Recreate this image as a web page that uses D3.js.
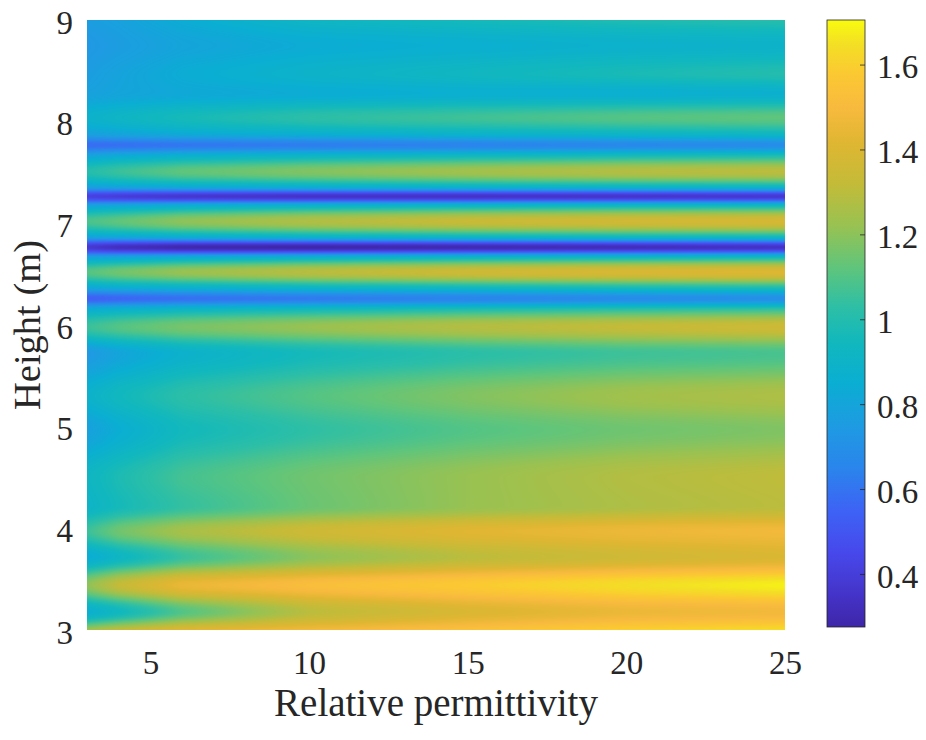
<!DOCTYPE html>
<html>
<head>
<meta charset="utf-8">
<script src="https://cdn.jsdelivr.net/npm/d3@7"></script>
<style>
  body { margin: 0; background: #fff; }
  svg text { font-family: "Liberation Serif", "Times New Roman", serif; fill: #262626; }
</style>
</head>
<body>
<svg id="chart" width="926" height="740"></svg>
<script>
// relative permittivity columns
const permittivity = [3, 4, 6, 10, 15, 20, 25];

// heights (m) of the band centres / edges, bottom to top
const heights = [3.00, 3.18, 3.44, 3.72, 3.97, 4.22, 4.50, 4.97, 5.30, 5.72, 5.98,
                 6.15, 6.26, 6.37, 6.52, 6.66, 6.765, 6.87, 7.02, 7.17, 7.265,
                 7.36, 7.51, 7.66, 7.77, 7.88, 8.04, 8.28, 8.47, 8.75, 9.00];

// field value at each height (rows) for each permittivity column
const field = [
    [1.24, 1.32, 1.42, 1.48, 1.54, 1.60, 1.64],
    [0.86, 0.94, 1.10, 1.30, 1.40, 1.46, 1.48],
    [1.20, 1.32, 1.45, 1.52, 1.58, 1.64, 1.68],
    [0.84, 0.92, 1.05, 1.20, 1.30, 1.36, 1.40],
    [1.05, 1.15, 1.25, 1.35, 1.42, 1.46, 1.48],
    [0.90, 0.96, 1.04, 1.14, 1.22, 1.27, 1.30],
    [0.92, 0.98, 1.07, 1.15, 1.22, 1.28, 1.31],
    [0.78, 0.85, 0.95, 1.03, 1.10, 1.15, 1.18],
    [0.88, 0.94, 1.02, 1.10, 1.18, 1.24, 1.27],
    [0.74, 0.80, 0.88, 0.96, 1.02, 1.06, 1.08],
    [1.05, 1.10, 1.16, 1.22, 1.28, 1.32, 1.35],
    [0.85, 0.88, 0.92, 0.96, 1.00, 1.03, 1.05],
    [0.54, 0.56, 0.59, 0.62, 0.65, 0.68, 0.70],
    [0.82, 0.85, 0.88, 0.92, 0.95, 0.98, 1.00],
    [1.10, 1.15, 1.22, 1.29, 1.35, 1.39, 1.41],
    [0.80, 0.82, 0.86, 0.90, 0.94, 0.96, 0.98],
    [0.38, 0.33, 0.29, 0.28, 0.30, 0.32, 0.35],
    [0.80, 0.82, 0.86, 0.90, 0.93, 0.95, 0.96],
    [1.08, 1.12, 1.20, 1.27, 1.33, 1.36, 1.38],
    [0.80, 0.82, 0.86, 0.90, 0.93, 0.95, 0.96],
    [0.42, 0.40, 0.37, 0.35, 0.35, 0.36, 0.38],
    [0.78, 0.80, 0.83, 0.86, 0.89, 0.91, 0.92],
    [1.00, 1.05, 1.12, 1.18, 1.24, 1.28, 1.30],
    [0.80, 0.84, 0.88, 0.92, 0.95, 0.98, 1.00],
    [0.58, 0.59, 0.61, 0.63, 0.65, 0.67, 0.69],
    [0.78, 0.80, 0.83, 0.86, 0.89, 0.91, 0.93],
    [0.88, 0.91, 0.96, 1.02, 1.06, 1.10, 1.12],
    [0.78, 0.80, 0.82, 0.84, 0.86, 0.86, 0.87],
    [0.76, 0.79, 0.84, 0.89, 0.93, 0.97, 1.00],
    [0.74, 0.76, 0.80, 0.84, 0.86, 0.88, 0.89],
    [0.76, 0.78, 0.84, 0.92, 0.96, 0.99, 1.01]
];

const xTicks = [5, 10, 15, 20, 25];
const yTicks = [3, 4, 5, 6, 7, 8, 9];
const cbTicks = [0.4, 0.6, 0.8, 1, 1.2, 1.4, 1.6];
const cbLimits = [0.275, 1.705];

// parula-like colormap, stops matched to the reference colorbar (value -> colour)
const cmapValues = [0.275, 0.35, 0.45, 0.55, 0.65, 0.75, 0.85, 0.95, 1.03,
                    1.12, 1.22, 1.32, 1.42, 1.50, 1.58, 1.65, 1.705];
const cmapColors = ["#3e26a8", "#4433c8", "#4748eb", "#3d63f5", "#2a85ec", "#1e9be2",
                    "#0aaed2", "#12b8bc", "#2ebfa5", "#5ec57c", "#98c252", "#c4bb38",
                    "#e0b632", "#f8ba3e", "#fbc932", "#f3e024", "#f9fb0e"];

const svg = d3.select('#chart');

// plot area
const padLeft = 87, padRight = 785, padTop = 20, padBottom = 630;

const x = d3.scaleLinear().domain([3, 25]).range([padLeft, padRight]);
const y = d3.scaleLinear().domain([3, 9]).range([padBottom, padTop]);

const color = d3.scaleLinear()
    .domain(cmapValues)
    .range(cmapColors)
    .clamp(true);

// monotone cubic through the read values (keeps peaks/troughs where they were read)
function monotone(xs, ys) {
    const n = xs.length;
    const dx = [], m = [];
    for (let i = 0; i < n - 1; i++) {
        dx.push(xs[i + 1] - xs[i]);
        m.push((ys[i + 1] - ys[i]) / dx[i]);
    }
    const t = new Array(n);
    t[0] = m[0];
    t[n - 1] = m[n - 2];
    for (let i = 1; i < n - 1; i++) {
        if (m[i - 1] * m[i] <= 0) t[i] = 0;
        else t[i] = 3 * (dx[i - 1] + dx[i]) / ((2 * dx[i] + dx[i - 1]) / m[i - 1] + (dx[i] + 2 * dx[i - 1]) / m[i]);
    }
    return function (v) {
        let i = d3.bisectRight(xs, v) - 1;
        i = Math.max(0, Math.min(i, n - 2));
        const h = dx[i], s = (v - xs[i]) / h;
        const s2 = s * s, s3 = s2 * s;
        return (2 * s3 - 3 * s2 + 1) * ys[i] + (s3 - 2 * s2 + s) * h * t[i]
            + (-2 * s3 + 3 * s2) * ys[i + 1] + (s3 - s2) * h * t[i + 1];
    };
}

// colour lookup table
const lut = d3.range(1024).map(i => d3.rgb(color(cbLimits[0] + i / 1023 * (cbLimits[1] - cbLimits[0]))));

// draw the map into a canvas, then place it with the scales
const pw = Math.round(padRight - padLeft), ph = Math.round(padBottom - padTop);
const canvas = document.createElement('canvas');
canvas.width = pw;
canvas.height = ph;
const ctx = canvas.getContext('2d');
const img = ctx.createImageData(pw, ph);

const profiles = permittivity.map((p, j) => {
    const f = monotone(heights, field.map(row => row[j]));
    return d3.range(ph).map(r => f(y.invert(padTop + r + 0.5)));
});

for (let c = 0; c < pw; c++) {
    const xv = x.invert(padLeft + c + 0.5);
    let j = d3.bisectRight(permittivity, xv) - 1;
    j = Math.max(0, Math.min(j, permittivity.length - 2));
    const w = (xv - permittivity[j]) / (permittivity[j + 1] - permittivity[j]);
    for (let r = 0; r < ph; r++) {
        const v = profiles[j][r] * (1 - w) + profiles[j + 1][r] * w;
        let k = Math.round((v - cbLimits[0]) / (cbLimits[1] - cbLimits[0]) * 1023);
        k = Math.max(0, Math.min(1023, k));
        const col = lut[k];
        const p = (r * pw + c) * 4;
        img.data[p] = col.r;
        img.data[p + 1] = col.g;
        img.data[p + 2] = col.b;
        img.data[p + 3] = 255;
    }
}
ctx.putImageData(img, 0, 0);

svg.append('image')
    .attr('x', x(3))
    .attr('y', y(9))
    .attr('width', x(25) - x(3))
    .attr('height', y(3) - y(9))
    .attr('preserveAspectRatio', 'none')
    .attr('href', canvas.toDataURL());

// axes (no axis lines or ticks on the map, labels only)
const xAxis = svg.append('g')
    .attr('transform', `translate(0,${padBottom})`)
    .call(d3.axisBottom(x).tickValues(xTicks).tickSize(0).tickPadding(21).tickFormat(d3.format('d')));
xAxis.select('.domain').remove();
xAxis.selectAll('text').attr('font-size', 33).attr('font-family', null);

const yAxis = svg.append('g')
    .attr('transform', `translate(${padLeft},0)`)
    .call(d3.axisLeft(y).tickValues(yTicks).tickSize(0).tickPadding(14).tickFormat(d3.format('d')));
yAxis.select('.domain').remove();
yAxis.selectAll('text').attr('font-size', 33).attr('font-family', null).attr('dy', '0.4em');

svg.append('text')
    .attr('x', (padLeft + padRight) / 2)
    .attr('y', 716)
    .attr('text-anchor', 'middle')
    .attr('font-size', 39)
    .text('Relative permittivity');

svg.append('text')
    .attr('transform', `translate(40,${(padTop + padBottom) / 2}) rotate(-90)`)
    .attr('text-anchor', 'middle')
    .attr('font-size', 38.5)
    .text('Height (m)');

// colorbar
const cbLeft = 827, cbRight = 865, cbTop = 20, cbBottom = 627;
const cb = d3.scaleLinear().domain(cbLimits).range([cbBottom, cbTop]);

const grad = svg.append('defs').append('linearGradient')
    .attr('id', 'cbgrad')
    .attr('x1', 0).attr('y1', 1).attr('x2', 0).attr('y2', 0);
grad.selectAll('stop')
    .data(cmapValues)
    .join('stop')
    .attr('offset', d => (d - cbLimits[0]) / (cbLimits[1] - cbLimits[0]))
    .attr('stop-color', (d, i) => cmapColors[i]);

svg.append('rect')
    .attr('x', cbLeft)
    .attr('y', cb(cbLimits[1]))
    .attr('width', cbRight - cbLeft)
    .attr('height', cb(cbLimits[0]) - cb(cbLimits[1]))
    .attr('fill', 'url(#cbgrad)')
    .attr('stroke', '#262626')
    .attr('stroke-width', 0.8);

const cbAxis = svg.append('g')
    .attr('transform', `translate(${cbRight},0)`)
    .call(d3.axisRight(cb).tickValues(cbTicks).tickSize(-5).tickPadding(12).tickFormat(d3.format('')));
cbAxis.select('.domain').remove();
cbAxis.selectAll('line').attr('stroke', '#262626').attr('stroke-width', 0.8);
cbAxis.selectAll('text').attr('font-size', 33).attr('font-family', null).attr('dy', '0.4em');
</script>
</body>
</html>
